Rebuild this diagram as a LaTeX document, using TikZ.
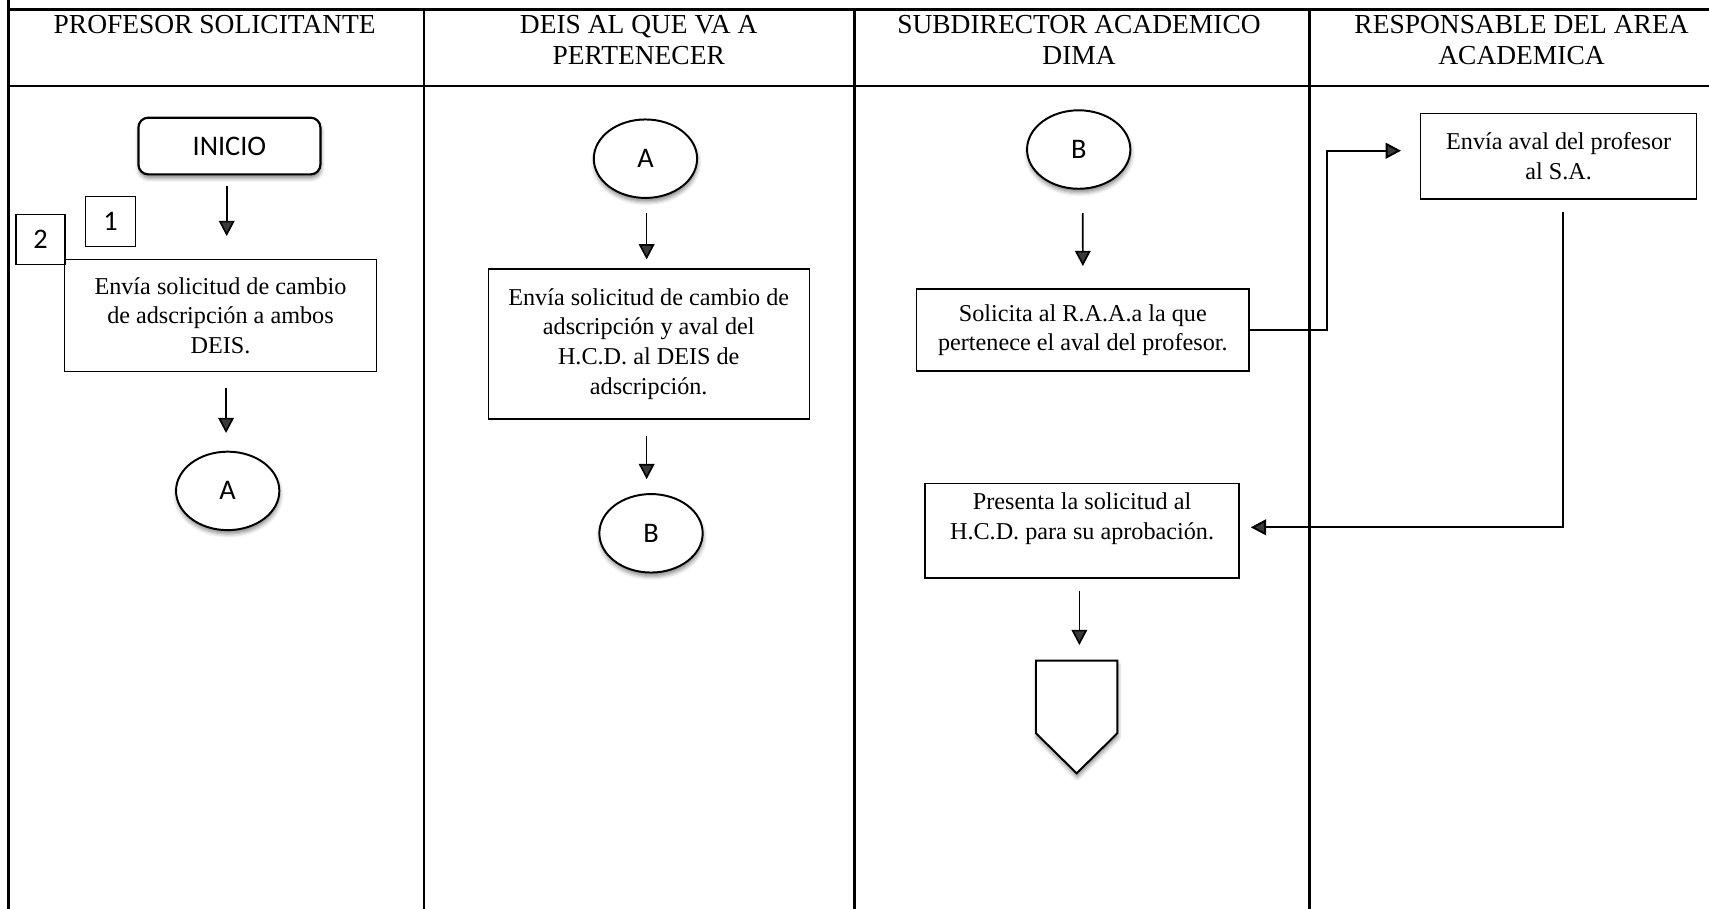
\documentclass[tikz,border=0pt]{standalone}
\usepackage{fontspec}
\setmainfont{Liberation Serif}
\newfontfamily\labelfont{Carlito}
\usetikzlibrary{arrows.meta,shapes.geometric,shadows.blur}

\tikzset{
  gridline/.style={line width=1.35pt},
  hdrtext/.style={anchor=base, inner sep=0pt, font=\fontsize{12.6}{14}\selectfont},
  procbox/.style={draw, line width=0.6pt, fill=white, align=center, inner sep=3pt,
    font=\fontsize{11.1}{13.6}\selectfont},
  softshadow/.style={blur shadow={shadow xshift=0.3pt, shadow yshift=-1.8pt,
    shadow blur radius=1.8pt, shadow opacity=45}},
  startbox/.style={draw, line width=1pt, rounded corners=4.5pt, fill=white, softshadow,
    font=\labelfont\fontsize{13}{14}\selectfont},
  pagelink/.style={ellipse, draw, line width=0.9pt, fill=white, inner sep=0pt,
    minimum width=47.4pt, minimum height=36pt, softshadow,
    font=\labelfont\fontsize{13}{14}\selectfont},
  numbox/.style={draw, line width=0.6pt, fill=white, inner sep=0pt,
    font=\labelfont\fontsize{13}{14}\selectfont},
  flowarrow/.style={line width=0.75pt, -{Triangle[length=7pt,width=7.2pt]}},
  elbow/.style={line width=0.9pt},
}

\begin{document}
\begin{tikzpicture}[x=0.5pt,y=-0.5pt]
\useasboundingbox (0,0) rectangle (1568,834);

% table grid
\draw[gridline] (7.6,0) -- (7.6,834);
\draw[gridline] (7.6,8.3) -- (1568,8.3);
\draw[gridline] (7.6,78.9) -- (1568,78.9);
\foreach \x in {389,783.6,1201.5} \draw[gridline] (\x,8.3) -- (\x,834);

% column headings
\node[hdrtext] (h1)  at (197,30.6)  {PROFESOR SOLICITANTE};
\node[hdrtext] (h2a) at (586,30.6)  {DEIS AL QUE VA A};
\node[hdrtext] (h2b) at (586,59.5)  {PERTENECER};
\node[hdrtext] (h3a) at (990,30.6)  {SUBDIRECTOR ACADEMICO};
\node[hdrtext] (h3b) at (990,59.5)  {DIMA};
\node[hdrtext] (h4a) at (1396,30.6) {RESPONSABLE DEL AREA};
\node[hdrtext] (h4b) at (1396,59.5) {ACADEMICA};

% lane 1: profesor solicitante
\node[startbox, minimum width=83.5pt, minimum height=26pt] (inicio) at (210.5,134) {INICIO};
\node[procbox, minimum width=143.3pt, minimum height=51.5pt] (c1) at (202.3,289.5)
  {Envía solicitud de cambio\\de adscripción a ambos\\DEIS.};
\node[numbox, minimum width=23pt, minimum height=23pt] (n1) at (101.5,203.3) {1};
\node[numbox, minimum width=22.5pt, minimum height=23pt] (n2) at (37.2,219.6) {2};
\node[pagelink] (a1) at (208.9,450.4) {A};

% lane 2: DEIS de destino
\node[pagelink] (a2) at (592.2,145.6) {A};
\node[procbox, minimum width=147.2pt, minimum height=68.8pt] (c2) at (595.2,315.6)
  {Envía solicitud de cambio de\\adscripción y aval del\\H.C.D. al DEIS de\\adscripción.};
\node[pagelink] (b2) at (597.3,489.3) {B};

% lane 3: subdirector academico
\node[pagelink] (b3) at (989.7,137.2) {B};
\node[procbox, minimum width=152.5pt, minimum height=37.6pt] (c3a) at (993.5,302.8)
  {Solicita al R.A.A.a la que\\pertenece el aval del profesor.};
\node[procbox, anchor=north, minimum width=144pt, minimum height=43.4pt] (c3b) at (992.8,442.9)
  {Presenta la solicitud al\\H.C.D. para su aprobación.\\~};
% off-page connector
\draw[line width=0.9pt, fill=white, softshadow]
  (950.5,606.2) -- (1025.1,606.2) -- (1025.1,672.8) -- (987.8,709.5) -- (950.5,672.8) -- cycle;
\coordinate (offpage) at (987.8,606.2);

% lane 4: responsable del area
\node[procbox, minimum width=126.6pt, minimum height=39.3pt] (c4) at (1430.1,143.3)
  {Envía aval del profesor\\al S.A.};

% vertical flow arrows
\draw[flowarrow] ([xshift=-1.25pt,yshift=-4.85pt]inicio.south) -- ([xshift=2.85pt,yshift=10.4pt]c1.north);
\draw[flowarrow] ([xshift=2.55pt,yshift=-7.2pt]c1.south) -- ([xshift=-0.75pt,yshift=8.1pt]a1.north);
\draw[flowarrow] ([xshift=0.55pt,yshift=-6.55pt]a2.south) -- ([xshift=-0.95pt,yshift=4.1pt]c2.north);
\draw[flowarrow] ([xshift=-0.95pt,yshift=-7.3pt]c2.south) -- ([xshift=-2pt,yshift=6.4pt]b2.north);
\draw[flowarrow] ([xshift=1.85pt,yshift=-10.7pt]b3.south) -- ([yshift=10.25pt]c3a.north);
\draw[flowarrow] ([xshift=-1.25pt,yshift=-5.5pt]c3b.south) -- ([xshift=1.25pt,yshift=7.2pt]offpage);

% cross-lane links
\draw[elbow, -{Triangle[length=7pt,width=7.2pt]}]
  (c3a.east) -- ++(71.2,0) |- ([xshift=-8.75pt,yshift=2.5pt]c4.west);
\draw[elbow, -{Triangle[length=7pt,width=7.2pt]}]
  ([xshift=1.85pt,yshift=-5.8pt]c4.south) |- ([xshift=5.1pt,yshift=1.55pt]c3b.east);

\end{tikzpicture}
\end{document}
